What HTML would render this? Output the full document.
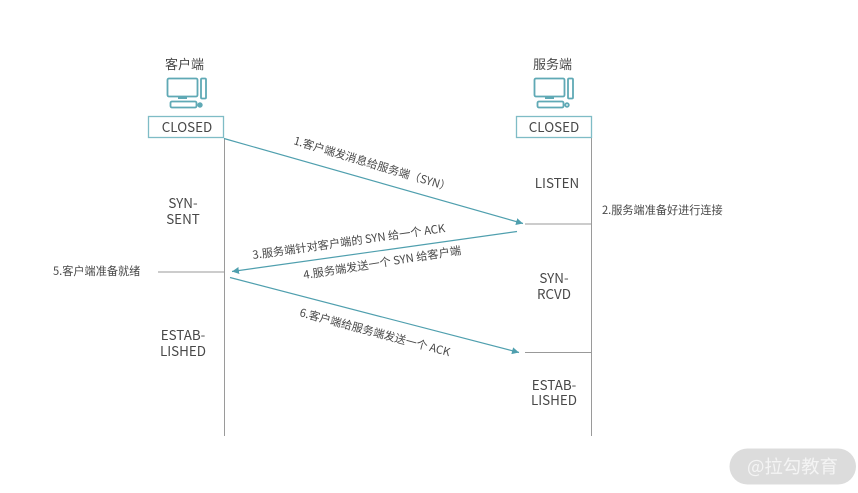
<!DOCTYPE html>
<html><head><meta charset="utf-8"><style>
html,body{margin:0;padding:0;background:#fff;width:858px;height:493px;overflow:hidden}
svg{display:block}
text{font-family:"Noto Sans CJK SC","Liberation Sans",sans-serif;fill:#484848;font-size:13px}
.s{font-size:11.150px}.r{font-size:11.300px}.m{font-size:13.400px;text-anchor:middle}.t{font-size:13px;text-anchor:middle}
</style></head><body>
<svg width="858" height="493" viewBox="0 0 858 493">
<defs><marker id="a" markerUnits="userSpaceOnUse" markerWidth="8" markerHeight="8" refX="7" refY="3.5" orient="auto"><path d="M0 0L7 3.5L0 7Z" fill="#4f9fae"/></marker></defs>

<!-- client -->
<text class="t" x="184.500" y="69">客户端</text>
<g fill="none" stroke="#5fa9b5" stroke-width="1.800">
<rect x="167.500" y="78.500" width="30" height="18" rx="1.500"/>
<rect x="201" y="78.500" width="5" height="20" rx="1"/>
<rect x="170.500" y="101.500" width="26" height="6" rx="1.500"/>
<circle cx="200" cy="105" r="1.800" fill="#5fa9b5"/>
</g>
<rect x="178" y="96" width="9" height="3" fill="#5fa9b5"/>
<rect x="148.500" y="116.500" width="75" height="21" fill="#fff" stroke="#7fbcc6" stroke-width="1.300"/>
<text class="m" x="187" y="132">CLOSED</text>
<line x1="224.500" y1="138" x2="224.500" y2="436" stroke="#9a9a9a"/>

<!-- server -->
<text class="t" x="552.500" y="69">服务端</text>
<g fill="none" stroke="#5fa9b5" stroke-width="1.800">
<rect x="534.500" y="78.500" width="30" height="18" rx="1.500"/>
<rect x="568" y="78.500" width="5" height="20" rx="1"/>
<rect x="537.500" y="101.500" width="26" height="6" rx="1.500"/>
<circle cx="567" cy="105" r="1.800"/>
</g>
<rect x="545" y="96" width="9" height="3" fill="#5fa9b5"/>
<rect x="516.500" y="116.500" width="75" height="21" fill="#fff" stroke="#7fbcc6" stroke-width="1.300"/>
<text class="m" x="554" y="132">CLOSED</text>
<line x1="591.500" y1="138" x2="591.500" y2="436" stroke="#9a9a9a"/>

<!-- arrows -->
<g stroke="#4f9fae" stroke-width="1.200" fill="none">
<line x1="224" y1="138.500" x2="523" y2="223.500" marker-end="url(#a)"/>
<line x1="517" y1="231.500" x2="232" y2="271.500" marker-end="url(#a)"/>
<line x1="230" y1="277.500" x2="519" y2="352.500" marker-end="url(#a)"/>
</g>
<g stroke="#999" stroke-width="1">
<line x1="525" y1="224" x2="591" y2="224"/>
<line x1="158" y1="272" x2="224" y2="272"/>
<line x1="525" y1="352.500" x2="591" y2="352.500"/>
</g>

<!-- rotated labels -->
<text class="s" transform="translate(293,144) rotate(16.800)">1.客户端发消息给服务端（SYN）</text>
<text class="r" transform="translate(253,259) rotate(-8)">3.服务端针对客户端的 SYN 给一个 ACK</text>
<text class="r" transform="translate(304,279) rotate(-9)">4.服务端发送一个 SYN 给客户端</text>
<text class="s" transform="translate(299,316) rotate(15)">6.客户端给服务端发送一个 ACK</text>

<!-- side labels -->
<text class="s" x="602" y="214">2.服务端准备好进行连接</text>
<text class="s" x="53" y="275">5.客户端准备就绪</text>

<!-- states -->
<text class="m" x="183" y="208">SYN-</text>
<text class="m" x="183" y="224">SENT</text>
<text class="m" x="183" y="340">ESTAB-</text>
<text class="m" x="183" y="356">LISHED</text>
<text class="m" x="557" y="188">LISTEN</text>
<text class="m" x="554" y="283">SYN-</text>
<text class="m" x="554" y="299">RCVD</text>
<text class="m" x="554" y="390">ESTAB-</text>
<text class="m" x="554" y="405">LISHED</text>

<!-- watermark -->
<rect x="729.500" y="448.500" width="126.500" height="36" rx="18" fill="#dcdcdc"/>
<text x="747" y="473" style="font-size:18.400px;fill:#f4f4f4">@拉勾教育</text>
</svg>
</body></html>
